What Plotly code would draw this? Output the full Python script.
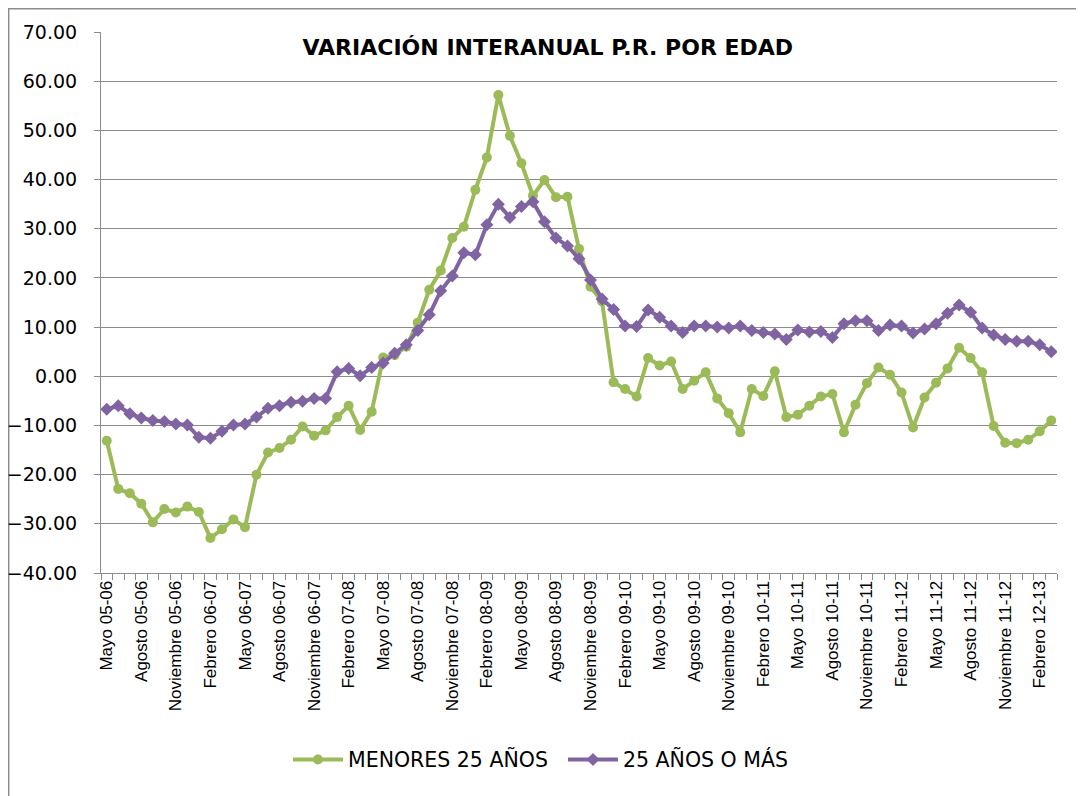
import plotly.graph_objects as go

etiquetas = ["Mayo 05-06", "Agosto 05-06", "Noviembre 05-06", "Febrero 06-07",
             "Mayo 06-07", "Agosto 06-07", "Noviembre 06-07", "Febrero 07-08",
             "Mayo 07-08", "Agosto 07-08", "Noviembre 07-08", "Febrero 08-09",
             "Mayo 08-09", "Agosto 08-09", "Noviembre 08-09", "Febrero 09-10",
             "Mayo 09-10", "Agosto 09-10", "Noviembre 09-10", "Febrero 10-11",
             "Mayo 10-11", "Agosto 10-11", "Noviembre 10-11", "Febrero 11-12",
             "Mayo 11-12", "Agosto 11-12", "Noviembre 11-12", "Febrero 12-13"]

menores_25 = [-13.1, -22.9, -23.8, -25.9, -29.7, -27.0, -27.7, -26.5, -27.6, -32.9,
              -31.1, -29.1, -30.7, -20.0, -15.5, -14.6, -12.9, -10.2, -12.1, -11.0,
              -8.3, -6.0, -10.9, -7.2, 3.8, 4.3, 6.0, 10.9, 17.6, 21.5,
              28.1, 30.4, 37.9, 44.5, 57.2, 48.9, 43.3, 36.7, 39.9, 36.4,
              36.5, 25.9, 18.2, 15.2, -1.2, -2.6, -4.1, 3.7, 2.2, 3.0,
              -2.6, -0.9, 0.8, -4.5, -7.5, -11.4, -2.6, -4.0, 1.0, -8.3,
              -7.8, -6.0, -4.1, -3.6, -11.4, -5.8, -1.4, 1.8, 0.3, -3.3,
              -10.4, -4.3, -1.3, 1.6, 5.8, 3.7, 0.8, -10.1, -13.5, -13.6,
              -12.9, -11.2, -9.0]

mayores_25 = [-6.7, -6.0, -7.6, -8.5, -9.0, -9.2, -9.7, -9.9, -12.4, -12.6,
              -11.2, -9.9, -9.7, -8.3, -6.5, -6.0, -5.3, -5.1, -4.5, -4.5,
              0.9, 1.6, 0.1, 1.8, 2.7, 4.7, 6.4, 9.3, 12.5, 17.4,
              20.4, 25.1, 24.7, 30.8, 35.0, 32.3, 34.5, 35.5, 31.4, 28.1,
              26.5, 23.9, 19.6, 15.7, 13.6, 10.2, 10.1, 13.5, 12.0, 10.2,
              8.9, 10.2, 10.2, 10.0, 9.8, 10.2, 9.3, 8.9, 8.6, 7.5,
              9.4, 9.0, 9.1, 7.9, 10.7, 11.3, 11.3, 9.3, 10.4, 10.2,
              8.8, 9.6, 10.7, 12.8, 14.5, 13.0, 9.8, 8.4, 7.5, 7.1,
              7.1, 6.4, 5.0]

x = list(range(len(menores_25)))
tick_pos = list(range(0, len(menores_25), 3))

GREEN = "#9BBB59"
PURPLE = "#8064A2"
GRID = "#8C8C8C"

fig = go.Figure()
fig.add_trace(go.Scatter(
    x=x, y=menores_25, name="MENORES 25 AÑOS", mode="lines+markers",
    line=dict(color=GREEN, width=4),
    marker=dict(symbol="circle", size=10, color=GREEN)))
fig.add_trace(go.Scatter(
    x=x, y=mayores_25, name="25 AÑOS O MÁS", mode="lines+markers",
    line=dict(color=PURPLE, width=4),
    marker=dict(symbol="diamond", size=10, color=PURPLE)))

fig.update_layout(
    width=1084, height=796,
    margin=dict(l=93, r=35, t=24, b=231, autoexpand=False),
    paper_bgcolor="white", plot_bgcolor="white",
    title=dict(text="<b>VARIACIÓN INTERANUAL P.R. POR EDAD</b>",
               x=0.498, xanchor="center", y=0.951, yanchor="middle",
               font=dict(family="DejaVu Sans", size=22, color="black")),
    showlegend=True,
    legend=dict(orientation="h", x=0.1956, xanchor="left", y=-0.345, yanchor="middle",
                font=dict(family="DejaVu Sans", size=20.5, color="black"),
                itemwidth=50, entrywidth=210, entrywidthmode="pixels",
                bgcolor="rgba(0,0,0,0)"),
    shapes=[dict(type="rect", xref="paper", yref="paper",
                 x0=-0.0968, x1=1.1, y0=-0.5, y1=1.0434,
                 line=dict(color=GRID, width=2), layer="below")],
)

fig.update_xaxes(
    range=[-0.5, len(x) - 0.5], automargin=False,
    tickmode="array", tickvals=tick_pos, ticktext=etiquetas,
    tickangle=-90, ticks="", showgrid=False,
    showline=True, linecolor=GRID, linewidth=1,
    tickfont=dict(family="Liberation Sans", size=17, color="black"),
    minor=dict(ticks="outside", ticklen=6, tickcolor=GRID, tick0=-0.5, dtick=1, showgrid=False),
    zeroline=False,
)
fig.update_yaxes(
    range=[-40, 70], dtick=10, tick0=0, tickformat=".2f", automargin=False,
    ticks="outside", ticklen=6, tickcolor=GRID,
    showgrid=True, gridcolor=GRID, gridwidth=1,
    showline=True, linecolor=GRID, linewidth=1,
    zeroline=False,
    tickfont=dict(family="DejaVu Sans", size=19, color="black"),
    ticklabelstandoff=13,
)

fig.write_html("out.html")
